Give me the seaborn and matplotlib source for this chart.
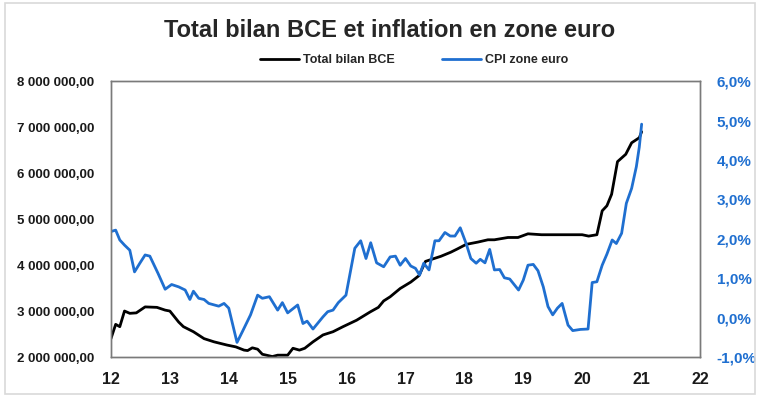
import numpy as np
import pandas as pd
import seaborn as sns
import matplotlib.pyplot as plt
from matplotlib.ticker import FuncFormatter, MultipleLocator
from matplotlib.patches import Rectangle

# Total bilan BCE (in millions of EUR, x = year 20xx as decimal)
bce_x = [12.0, 12.08, 12.15, 12.23, 12.32, 12.43, 12.58, 12.78, 12.92, 13.0,
         13.15, 13.23, 13.40, 13.58, 13.75, 13.97, 14.12, 14.26, 14.32, 14.40,
         14.49, 14.57, 14.74, 14.83, 15.0, 15.09, 15.20, 15.29, 15.43, 15.60,
         15.77, 15.94, 16.17, 16.40, 16.54, 16.63, 16.74, 16.91, 17.09, 17.23,
         17.34, 17.48, 17.60, 17.77, 17.88, 18.03, 18.23, 18.40, 18.51, 18.74,
         18.91, 19.08, 19.31, 19.65, 20.0, 20.11, 20.25, 20.34, 20.42, 20.50,
         20.60, 20.74, 20.84, 20.97, 21.01]
bce_mn = [2.40, 2.71, 2.66, 3.00, 2.95, 2.96, 3.09, 3.08, 3.02, 3.00,
          2.76, 2.66, 2.55, 2.40, 2.33, 2.26, 2.22, 2.15, 2.14, 2.20,
          2.17, 2.06, 2.01, 2.04, 2.04, 2.19, 2.15, 2.19, 2.33, 2.48,
          2.55, 2.66, 2.80, 2.98, 3.08, 3.22, 3.31, 3.49, 3.63, 3.77,
          4.08, 4.14, 4.19, 4.28, 4.35, 4.45, 4.50, 4.55, 4.55, 4.60,
          4.60, 4.68, 4.66, 4.66, 4.66, 4.63, 4.66, 5.18, 5.29, 5.54,
          6.25, 6.41, 6.66, 6.77, 6.90]

# CPI zone euro (%)
cpi_x = [11.99, 12.08, 12.15, 12.23, 12.32, 12.40, 12.49, 12.58, 12.66, 12.80,
         12.92, 13.03, 13.15, 13.26, 13.34, 13.40, 13.49, 13.58, 13.66, 13.83,
         13.92, 14.0, 14.14, 14.23, 14.37, 14.49, 14.57, 14.69, 14.83, 14.91,
         15.0, 15.17, 15.26, 15.33, 15.43, 15.60, 15.68, 15.77, 15.86, 15.99,
         16.14, 16.24, 16.33, 16.41, 16.51, 16.63, 16.74, 16.83, 16.91, 17.0,
         17.09, 17.17, 17.24, 17.31, 17.40, 17.50, 17.57, 17.67, 17.76, 17.84,
         17.93, 18.03, 18.11, 18.20, 18.27, 18.35, 18.43, 18.51, 18.60, 18.68,
         18.77, 18.92, 19.0, 19.08, 19.17, 19.25, 19.34, 19.42, 19.50, 19.58,
         19.66, 19.76, 19.84, 19.97, 20.10, 20.17, 20.25, 20.34, 20.42, 20.51,
         20.58, 20.67, 20.75, 20.84, 20.92, 20.97, 21.01]
cpi_pct = [2.18, 2.22, 1.97, 1.84, 1.71, 1.16, 1.38, 1.59, 1.56, 1.12,
           0.72, 0.84, 0.78, 0.70, 0.46, 0.67, 0.49, 0.46, 0.36, 0.29,
           0.36, 0.24, -0.63, -0.36, 0.07, 0.57, 0.49, 0.53, 0.19, 0.38,
           0.12, 0.32, -0.15, -0.09, -0.29, 0.02, 0.15, 0.19, 0.38, 0.57,
           1.76, 1.95, 1.50, 1.90, 1.39, 1.29, 1.54, 1.56, 1.33, 1.50,
           1.31, 1.25, 1.08, 1.38, 1.21, 1.95, 1.95, 2.16, 2.07, 2.07,
           2.28, 1.88, 1.50, 1.38, 1.48, 1.39, 1.73, 1.21, 1.22, 1.01,
           0.98, 0.70, 0.95, 1.33, 1.35, 1.19, 0.78, 0.28, 0.07, 0.24,
           0.36, -0.19, -0.33, -0.30, -0.29, 0.89, 0.91, 1.33, 1.61, 1.97,
           1.88, 2.14, 2.90, 3.28, 3.83, 4.33, 4.91]

bce_df = pd.DataFrame({"Year": bce_x, "Bilan": np.array(bce_mn) * 1e6})
cpi_df = pd.DataFrame({"Year": cpi_x, "CPI": cpi_pct})

sns.set_style("white")
plt.rcParams["font.family"] = ["Liberation Sans", "DejaVu Sans"]

BLUE = "#1f6fd0"

fig = plt.figure(figsize=(7.6, 3.98), dpi=100)
ax = fig.add_axes([0.146, 0.103, 0.775, 0.693])
ax2 = ax.twinx()

sns.lineplot(data=bce_df, x="Year", y="Bilan", ax=ax, color="black",
             linewidth=2.0, label="Total bilan BCE", legend=False)
sns.lineplot(data=cpi_df, x="Year", y="CPI", ax=ax2, color=BLUE,
             linewidth=2.0, label="CPI zone euro", legend=False)

ax.set_xlim(12, 22)
ax.set_ylim(2e6, 8e6)
ax2.set_ylim(-1, 6)
ax.xaxis.set_major_locator(MultipleLocator(1))
ax.yaxis.set_major_locator(MultipleLocator(1e6))
ax2.yaxis.set_major_locator(MultipleLocator(1))

ax.yaxis.set_major_formatter(FuncFormatter(
    lambda v, p: f"{v:,.2f}".replace(",", " ").replace(".", ",")))
ax2.yaxis.set_major_formatter(FuncFormatter(
    lambda v, p: f"{v:.1f}%".replace(".", ",")))
ax.xaxis.set_major_formatter(FuncFormatter(lambda v, p: f"{int(round(v))}"))

ax.set_xlabel("")
ax.set_ylabel("")
ax2.set_ylabel("")

ax.tick_params(axis="y", length=0, pad=12, labelsize=9.5, labelcolor="#1a1a1a")
ax.tick_params(axis="x", length=0, pad=11, labelsize=11.5, labelcolor="#1a1a1a")
ax2.tick_params(axis="y", length=0, pad=12, labelsize=11, labelcolor=BLUE)
for lbl in ax.get_xticklabels() + ax.get_yticklabels() + ax2.get_yticklabels():
    lbl.set_fontweight("bold")

for a in (ax, ax2):
    for s in a.spines.values():
        s.set_color("#7a7a7a")
        s.set_linewidth(1.0)
ax.grid(False)
ax2.grid(False)

fig.suptitle("Total bilan BCE et inflation en zone euro", x=0.513, y=0.952,
             fontsize=17, fontweight="bold")

handles = ax.get_lines()[:1] + ax2.get_lines()[:1]
fig.legend(handles, ["Total bilan BCE", "CPI zone euro"], loc="center",
           bbox_to_anchor=(0.545, 0.848), ncol=2, frameon=False,
           prop={"weight": "bold", "size": 9}, handlelength=3.1,
           handletextpad=0.3, columnspacing=3.8)

fig.patches.append(Rectangle((0.006, 0.01), 0.987, 0.983, transform=fig.transFigure,
                             fill=False, edgecolor="#d9d9d9", linewidth=1.2))

plt.savefig("out.png", dpi=100)
